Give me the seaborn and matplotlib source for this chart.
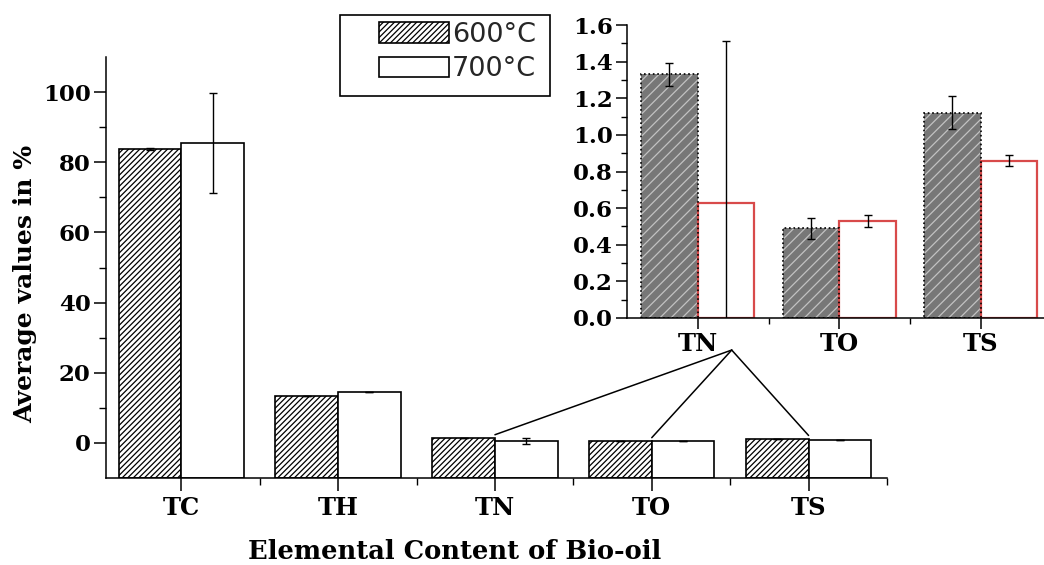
import matplotlib
matplotlib.use("Agg")
import matplotlib.pyplot as plt
from matplotlib.patches import Patch, Rectangle, ConnectionPatch
from matplotlib.ticker import MultipleLocator, FixedLocator, FormatStrFormatter
import pandas as pd
import seaborn as sns

# Elemental composition of bio-oil (wt %) at two pyrolysis temperatures
elements = ["TC", "TH", "TN", "TO", "TS"]
temps = ["600°C", "700°C"]
v600 = [83.8, 13.3, 1.33, 0.49, 1.12]
v700 = [85.5, 14.4, 0.63, 0.53, 0.86]
e600 = [0.3, 0.0, 0.065, 0.058, 0.09]
e700 = [14.2, 0.0, 0.88, 0.033, 0.032]

# minor elements shown enlarged in the inset
minor = ["TN", "TO", "TS"]

sns.set_theme(style="ticks")
plt.rcParams["font.family"] = ["DejaVu Serif"]
plt.rcParams["hatch.linewidth"] = 0.9
plt.rcParams["axes.linewidth"] = 1.1

W, H = 1044, 565
fig = plt.figure(figsize=(W / 100, H / 100), dpi=100)
fig.patch.set_facecolor("white")


def px_axes(left, top, right, bottom):
    return [left / W, 1 - bottom / H, (right - left) / W, (bottom - top) / H]


df = pd.DataFrame({
    "element": elements * 2,
    "temp": [temps[0]] * len(elements) + [temps[1]] * len(elements),
    "value": v600 + v700,
})
errs = {temps[0]: dict(zip(elements, e600)), temps[1]: dict(zip(elements, e700))}
vals = {temps[0]: dict(zip(elements, v600)), temps[1]: dict(zip(elements, v700))}


def add_errorbars(ax, cats, containers):
    for temp, cont in zip(temps, containers):
        xs = [b.get_x() + b.get_width() / 2 for b in cont]
        ys = [vals[temp][c] for c in cats]
        es = [errs[temp][c] for c in cats]
        ax.errorbar(xs, ys, yerr=es, fmt="none", ecolor="black",
                    elinewidth=1.0, capsize=3, capthick=1.0, zorder=5)


def base_bars_at(ax, containers, floor):
    # bars rise from the bottom of the frame, as in Origin-style plots
    for cont in containers:
        for bar in cont:
            top = bar.get_y() + bar.get_height()
            bar.set_y(floor)
            bar.set_height(top - floor)


# ---------------- main axes ----------------
ymin_main = -10
ax = fig.add_axes(px_axes(106, 57, 887, 478))
sns.barplot(data=df, x="element", y="value", hue="temp", order=elements,
            hue_order=temps, palette=["white", "white"], saturation=1,
            width=0.8, errorbar=None, legend=False, ax=ax,
            edgecolor="black", linewidth=1.2)
for bar in ax.containers[0]:
    bar.set_hatch("//////")
base_bars_at(ax, ax.containers, ymin_main)
add_errorbars(ax, elements, ax.containers)

ax.set_xlim(-0.48, 4.5)
ax.set_ylim(ymin_main, 110)
ax.yaxis.set_major_locator(FixedLocator([0, 20, 40, 60, 80, 100]))
ax.yaxis.set_minor_locator(FixedLocator([10, 30, 50, 70, 90]))
ax.xaxis.set_minor_locator(FixedLocator([0.5, 1.5, 2.5, 3.5, 4.5]))
ax.tick_params(axis="both", which="major", length=9, width=1.1, direction="out",
               color="black")
ax.tick_params(axis="both", which="minor", length=5, width=1.0, direction="out",
               color="black")
ax.tick_params(axis="y", which="major", labelsize=16.5, pad=2)
ax.tick_params(axis="x", which="major", labelsize=17.5, pad=4)
for lab in ax.get_xticklabels() + ax.get_yticklabels():
    lab.set_fontweight("bold")
    lab.set_color("black")
sns.despine(ax=ax)
for s in ["left", "bottom"]:
    ax.spines[s].set_color("black")
ax.set_facecolor("none")
ax.set_xlabel("Elemental Content of Bio-oil", fontsize=18.5, fontweight="bold",
              color="black")
ax.xaxis.set_label_coords(0.447, -0.146)
ax.set_ylabel("Average values in %", fontsize=18, fontweight="bold",
              color="black")
ax.yaxis.set_label_coords(-0.088, 0.46)

# ---------------- inset axes ----------------
ax_in = fig.add_axes(px_axes(627, 25, 1051.5, 318))
dfi = df[df["element"].isin(minor)]
sns.barplot(data=dfi, x="element", y="value", hue="temp", order=minor,
            hue_order=temps, palette=["white", "white"], saturation=1,
            width=0.8, errorbar=None, legend=False, ax=ax_in,
            edgecolor="black", linewidth=1.2)
for bar in ax_in.containers[0]:
    bar.set_facecolor("#777777")
    bar.set_edgecolor("#c2c2c2")
    bar.set_hatch("///")
    bar.set_linewidth(0)
    ax_in.add_patch(Rectangle((bar.get_x(), 0), bar.get_width(), bar.get_height(),
                              fill=False, edgecolor="black", linestyle=":",
                              linewidth=1.2, zorder=bar.get_zorder() + 0.1))
for bar in ax_in.containers[1]:
    bar.set_edgecolor("#d84a4a")
    bar.set_linewidth(1.6)
add_errorbars(ax_in, minor, ax_in.containers)

ax_in.set_xlim(-0.5, 2.5)
ax_in.set_ylim(0, 1.6)
ax_in.yaxis.set_major_locator(MultipleLocator(0.2))
ax_in.yaxis.set_minor_locator(MultipleLocator(0.1))
ax_in.yaxis.set_major_formatter(FormatStrFormatter("%.1f"))
ax_in.xaxis.set_minor_locator(FixedLocator([0.5, 1.5]))
ax_in.tick_params(axis="both", which="major", length=8, width=1.1, direction="out",
                  color="black")
ax_in.tick_params(axis="both", which="minor", length=4, width=1.0, direction="out",
                  color="black")
ax_in.tick_params(axis="y", which="major", labelsize=16.5, pad=2)
ax_in.tick_params(axis="x", which="major", labelsize=17.5, pad=2)
for lab in ax_in.get_xticklabels() + ax_in.get_yticklabels():
    lab.set_fontweight("bold")
    lab.set_color("black")
sns.despine(ax=ax_in)
for s in ["left", "bottom"]:
    ax_in.spines[s].set_color("black")
ax_in.set_facecolor("none")
ax_in.set_xlabel("")
ax_in.set_ylabel("")

# lines linking the small bars to their enlarged view
apex = (0.24, -0.175)
for i, el in enumerate(elements):
    if el in minor:
        con = ConnectionPatch(xyA=(i, vals[temps[0]][el] + 1.0), coordsA=ax.transData,
                              xyB=apex, coordsB=ax_in.transData,
                              color="black", linewidth=1.1)
        fig.add_artist(con)

# ---------------- legend ----------------
fig.add_artist(Rectangle((340 / W, 1 - 96 / H), 210 / W, 81 / H,
                         transform=fig.transFigure, fill=False,
                         edgecolor="black", linewidth=1.2))
handles = [Patch(facecolor="white", edgecolor="black", hatch="//////", linewidth=1.2),
           Patch(facecolor="white", edgecolor="black", linewidth=1.2)]
fs = 19.5
fs_px = fs * 100 / 72
fig.legend(handles, temps, loc="upper left",
           bbox_to_anchor=(379 / W, 1 - 22 / H), bbox_transform=fig.transFigure,
           frameon=False, borderpad=0, borderaxespad=0,
           handlelength=70 / fs_px, handleheight=21 / fs_px,
           handletextpad=3 / fs_px, labelspacing=0.3,
           prop={"family": "DejaVu Sans", "size": fs})

fig.savefig("out.png", dpi=100, facecolor="white")
